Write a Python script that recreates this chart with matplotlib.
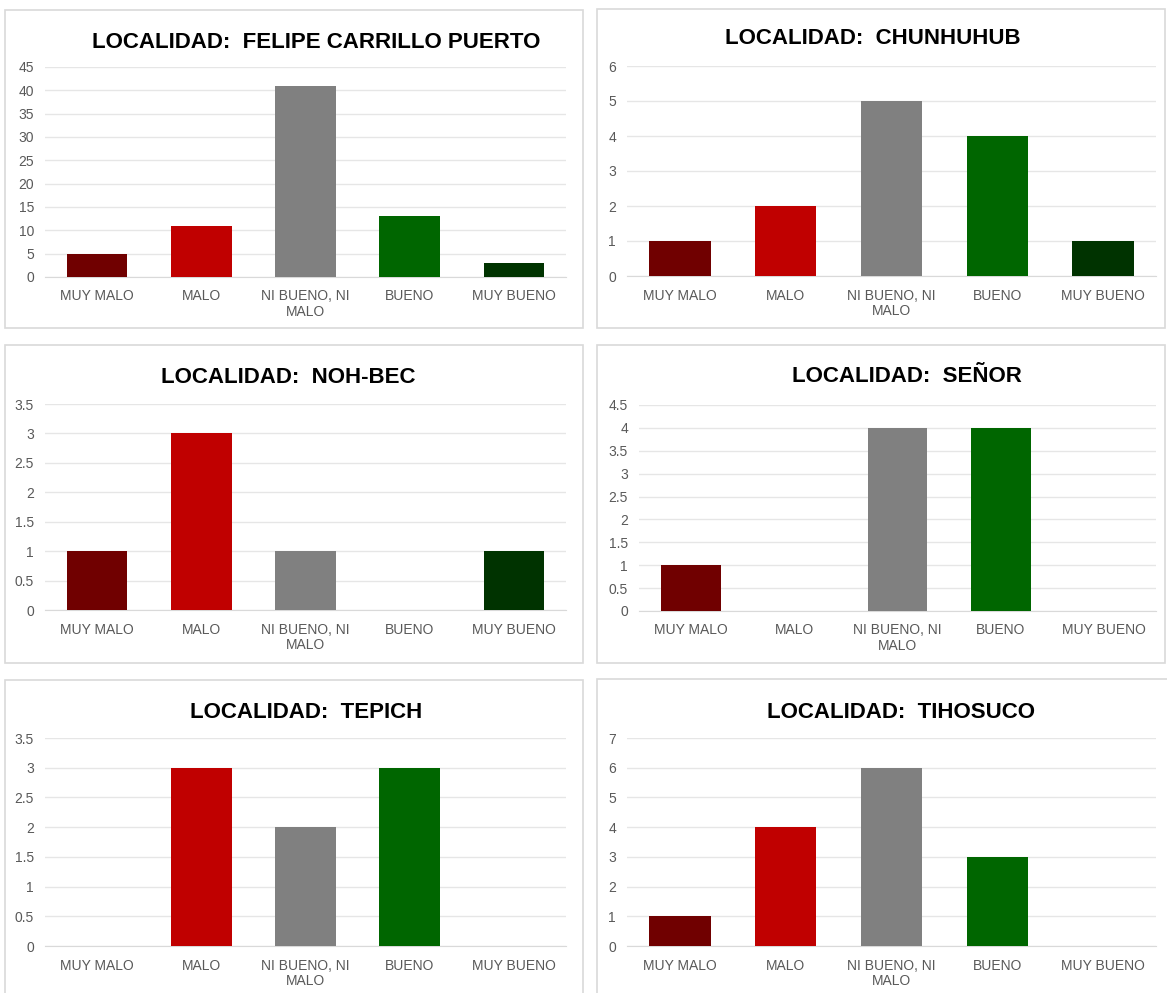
import matplotlib.pyplot as plt
from matplotlib.patches import Rectangle
from matplotlib.ticker import FuncFormatter
import numpy as np

plt.rcParams['font.family'] = ['Liberation Sans', 'DejaVu Sans']

# Categorías de la encuesta y colores de cada barra
categorias = ["MUY MALO", "MALO", "NI BUENO, NI\nMALO", "BUENO", "MUY BUENO"]
colores = ["#700000", "#C00000", "#808080", "#006600", "#003300"]

# Respuestas por localidad
felipe = [5, 11, 41, 13, 3]
chunhuhub = [1, 2, 5, 4, 1]
noh_bec = [1, 3, 1, 0, 1]
senor = [1, 0, 4, 4, 0]
tepich = [0, 3, 2, 3, 0]
tihosuco = [1, 4, 6, 3, 0]

titulos = ["LOCALIDAD:  FELIPE CARRILLO PUERTO", "LOCALIDAD:  CHUNHUHUB",
           "LOCALIDAD:  NOH-BEC", "LOCALIDAD:  SEÑOR",
           "LOCALIDAD:  TEPICH", "LOCALIDAD:  TIHOSUCO"]
datos = [felipe, chunhuhub, noh_bec, senor, tepich, tihosuco]
ymax = [45, 6, 3.5, 4.5, 3.5, 7]
paso = [5, 1, 0.5, 0.5, 0.5, 1]

W, H = 1167, 993
fig = plt.figure(figsize=(W / 100, H / 100), dpi=100)

def caja(x0, y0, x1, y1):
    # convierte pixeles (origen arriba a la izquierda) a fracciones de figura
    return [x0 / W, 1 - y1 / H, (x1 - x0) / W, (y1 - y0) / H]

# marcos de cada gráfico, área de ejes y posición del título
marcos = [(5, 10, 583, 328), (597, 9, 1165, 328),
          (5, 345, 583, 663), (597, 345, 1165, 663),
          (5, 680, 583, 1000), (597, 679, 1175, 1000)]
ejes = [(45, 67, 566, 277), (627, 66, 1156, 276),
        (45, 404, 566, 610), (639, 405, 1156, 611),
        (45, 738, 566, 946), (627, 738, 1156, 946)]
pos_titulo = [(316, 42), (873, 39), (288, 378), (907, 377), (306, 712), (901, 712)]

for m in marcos:
    x0, y0, w, h = caja(*m)
    fig.patches.append(Rectangle((x0, y0), w, h, transform=fig.transFigure,
                                 fill=False, edgecolor="#d9d9d9", linewidth=1.2))

fmt = FuncFormatter(lambda v, p: f"{v:g}")
x = np.arange(len(categorias))

for i in range(6):
    ax = fig.add_axes(caja(*ejes[i]))
    ax.bar(x, datos[i], width=0.58, color=colores, zorder=3)
    ax.set_xlim(-0.5, len(categorias) - 0.5)
    ax.set_ylim(0, ymax[i])
    ax.set_yticks(np.arange(0, ymax[i] + paso[i] / 2, paso[i]))
    ax.yaxis.set_major_formatter(fmt)
    ax.set_xticks(x)
    ax.set_xticklabels(categorias, linespacing=1.15)
    ax.tick_params(length=0, labelsize=10, labelcolor="#595959")
    ax.tick_params(axis="y", pad=8)
    ax.tick_params(axis="x", pad=9)
    ax.grid(axis="y", color="#e6e6e6", linewidth=1, zorder=0)
    for s in ["top", "right", "left"]:
        ax.spines[s].set_visible(False)
    ax.spines["bottom"].set_color("#d9d9d9")
    tx, ty = pos_titulo[i]
    fig.text(tx / W, 1 - ty / H, titulos[i], ha="center", va="center",
             fontsize=16, fontweight="bold", color="black")

fig.savefig("out.png", dpi=100, facecolor="white")
